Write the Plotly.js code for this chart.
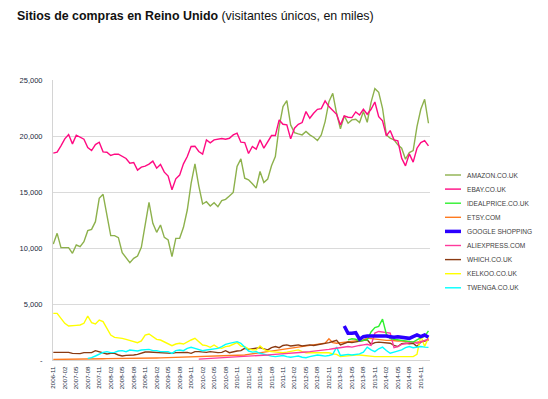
<!DOCTYPE html>
<html>
<head>
<meta charset="utf-8">
<script src="https://cdn.plot.ly/plotly-3.0.1.min.js"></script>
<style>html,body{margin:0;padding:0;background:#fff;}#chart{width:548px;height:399px;}</style>
</head>
<body>
<div id="chart"></div>
<script>
const months = ["2006-11","2006-12","2007-01","2007-02","2007-03","2007-04","2007-05","2007-06","2007-07","2007-08","2007-09","2007-10","2007-11","2007-12",
"2008-01","2008-02","2008-03","2008-04","2008-05","2008-06","2008-07","2008-08","2008-09","2008-10","2008-11","2008-12",
"2009-01","2009-02","2009-03","2009-04","2009-05","2009-06","2009-07","2009-08","2009-09","2009-10","2009-11","2009-12",
"2010-01","2010-02","2010-03","2010-04","2010-05","2010-06","2010-07","2010-08","2010-09","2010-10","2010-11","2010-12",
"2011-01","2011-02","2011-03","2011-04","2011-05","2011-06","2011-07","2011-08","2011-09","2011-10","2011-11","2011-12",
"2012-01","2012-02","2012-03","2012-04","2012-05","2012-06","2012-07","2012-08","2012-09","2012-10","2012-11","2012-12",
"2013-01","2013-02","2013-03","2013-04","2013-05","2013-06","2013-07","2013-08","2013-09","2013-10","2013-11","2013-12",
"2014-01","2014-02","2014-03","2014-04","2014-05","2014-06","2014-07","2014-08","2014-09","2014-10","2014-11","2014-12","2015-01"];

const tickMonths = ["2006-11","2007-02","2007-05","2007-08","2007-11","2008-02","2008-05","2008-08","2008-11","2009-02","2009-05","2009-08","2009-11",
"2010-02","2010-05","2010-08","2010-11","2011-02","2011-05","2011-08","2011-11","2012-02","2012-05","2012-08","2012-11",
"2013-02","2013-05","2013-08","2013-11","2014-02","2014-05","2014-08","2014-11"];

const yTickVals = [0, 5000, 10000, 15000, 20000, 25000];
const yTickText = ["-", "5,000", "10,000", "15,000", "20,000", "25,000"];

const amazon = [10357,11310,10030,10060,10030,9524,10268,10119,10566,11548,11667,12351,14435,14792,12946,11101,11101,10923,9583,9167,
8690,9077,9286,10060,12054,14077,12203,11399,12054,10952,10714,9226,10863,10863,11845,13393,15774,17516,15550,13929,
14137,13750,14048,13690,14226,14345,14643,14960,17278,17961,16238,16090,15734,15348,16833,15852,16149,17337,18169,20842,
22624,23159,20990,20307,20188,20099,20397,20099,19892,19595,20099,21287,23069,23812,22030,20634,21792,21139,21436,21495,
21198,22179,21228,23010,24228,23901,22476,20099,19803,19654,19208,18911,17931,18525,18704,20842,22386,23277,21139];

const ebay = [18466,18555,19119,19743,20129,19298,20070,19862,19713,18971,18704,19238,19446,18585,18555,18258,18377,18377,18199,17991,
17575,17634,16951,17219,17308,17486,17753,17130,17456,16773,16417,15199,16179,16506,17516,18169,19060,19090,18614,18377,
19654,19387,19654,19713,19773,19713,19800,20100,20248,19446,19416,18436,19060,18822,19654,18911,19446,20040,20040,21436,
21050,20990,19743,20693,21050,21198,22179,21584,22030,22386,22446,23129,22624,22268,21941,20990,21792,21674,21644,22149,
21881,22386,21941,22386,23040,21733,21347,20010,20486,19654,19565,18020,17337,18406,17664,18911,19416,19594,19119];

const idealprice = [null,null,null,null,null,null,null,null,null,null,null,null,null,null,null,null,null,null,null,null,
null,null,null,null,null,null,null,null,null,null,null,null,null,null,null,null,null,null,null,null,
null,null,null,null,null,null,null,null,null,null,null,null,null,null,null,null,null,null,null,null,
null,null,null,null,null,null,null,null,null,null,null,null,null,null,null,null,null,1800,1900,1850,
1700,1750,1800,2500,2900,3000,3650,2300,1900,1850,1800,1750,1750,1700,1600,1800,2000,2100,2600];

const etsy = [50,50,60,60,70,70,80,80,90,90,100,100,110,110,120,120,130,130,140,140,
150,150,160,160,170,170,180,180,190,200,200,210,220,220,230,240,250,260,270,280,
290,300,310,320,330,340,360,380,400,420,450,500,550,650,700,750,800,850,900,950,
1000,1050,1100,1150,1200,1250,1300,1350,1350,1400,1450,1500,1900,1550,1500,1550,1600,1650,1650,1700,
1750,1800,1950,1900,1850,1800,1750,1750,1750,1700,1700,1700,1650,1650,1600,1600,1650,1750,1800];

const google = [null,null,null,null,null,null,null,null,null,null,null,null,null,null,null,null,null,null,null,null,
null,null,null,null,null,null,null,null,null,null,null,null,null,null,null,null,null,null,null,null,
null,null,null,null,null,null,null,null,null,null,null,null,null,null,null,null,null,null,null,null,
null,null,null,null,null,null,null,null,null,null,null,null,null,null,null,null,3036,2381,2381,2440,
1845,2083,2143,2143,2143,2202,2143,2143,2083,2024,2083,2024,2024,1934,2083,2232,2083,2232,2024];

const aliexpress = [null,null,null,null,null,null,null,null,null,null,null,null,null,null,null,null,null,null,null,null,
null,null,null,null,null,null,null,null,null,null,null,null,null,null,null,null,null,null,80,100,
110,120,130,150,160,170,200,220,250,280,300,320,350,380,400,420,450,480,500,520,
550,580,600,620,650,700,720,750,780,800,850,900,950,1000,1050,1100,1150,1200,1150,1250,
1300,1350,1400,1300,2400,2550,2500,2450,2400,1100,1200,1400,1450,1500,1600,1500,1600,1750,1850];

const which = [684,684,684,684,684,595,595,565,655,655,655,833,744,655,536,595,595,446,357,417,
417,446,506,595,714,714,684,655,655,625,595,595,655,655,655,684,595,744,744,714,
684,744,684,655,684,833,655,744,803,833,1042,950,1000,1050,1100,1000,900,1100,1200,1100,
1300,1350,1250,1300,1350,1250,1300,1350,1300,1350,1450,1500,1550,1650,1750,1350,1500,1600,1550,1600,
1650,1700,1800,1400,1550,1600,1550,1500,1500,1300,1200,1450,1500,1450,1500,1200,1600,1700,1800];

const kelkoo = [4166,4166,3720,3274,3036,3095,3095,3125,3274,3928,3333,3214,3571,3422,2827,2232,2024,1994,1934,1845,
1726,1637,1548,1696,2232,2321,2083,1845,1786,1637,1488,1280,1428,1488,1428,1637,1786,1934,1637,1339,
1280,1131,1339,1101,1042,1190,1250,1399,1548,1250,1190,1000,900,900,1250,950,800,750,700,700,
650,700,750,850,900,750,650,650,650,650,600,600,650,550,500,300,350,350,400,450,
450,400,350,300,300,300,300,280,250,250,250,250,250,300,300,500,2200,1200,2000];

const twenga = [null,null,null,null,null,null,null,null,null,149,208,357,536,684,744,655,684,803,833,744,
893,833,803,893,893,952,833,833,744,744,744,595,833,893,833,1042,1131,1042,952,833,
893,952,952,1042,1190,1399,1488,1548,1637,1488,1131,800,700,750,600,500,400,350,300,350,
400,300,250,300,350,250,200,300,400,450,400,350,400,500,1150,400,450,500,450,500,
550,700,1150,900,750,1000,1150,850,600,700,800,900,1100,1200,1100,1150,1200,1150,1130];

const seriesNames = ["AMAZON.CO.UK","EBAY.CO.UK","IDEALPRICE.CO.UK","ETSY.COM","GOOGLE SHOPPING","ALIEXPRESS.COM","WHICH.CO.UK","KELKOO.CO.UK","TWENGA.CO.UK"];
const seriesData = [amazon, ebay, idealprice, etsy, google, aliexpress, which, kelkoo, twenga];
const seriesColors = ["#8DB14C","#FF0A82","#2EF02E","#FF7A1F","#2B00FF","#FF3A9C","#8A3A12","#FFFF00","#00FFFF"];
const seriesWidths = [1.4,1.4,1.4,1.4,3.5,1.4,1.4,1.4,1.4];

// draw order: small series first, big ones on top similar to reference
const drawOrder = [0,1,3,6,7,8,5,2,4];
const traces = drawOrder.map(k => ({
  type: 'scatter', mode: 'lines', x: months, y: seriesData[k], name: seriesNames[k],
  line: {color: seriesColors[k], width: seriesWidths[k]}, connectgaps: false, hoverinfo: 'skip'
}));

const L = 53, R = 118, T = 80, B = 39, W = 548, H = 399;
const pw = W - L - R, ph = H - T - B;
const px2x = px => (px - L) / pw;
const py2y = py => (H - B - py) / ph;

const shapes = [], annotations = [];
seriesNames.forEach((nm, k) => {
  const py = 175 + k * 14.1;
  shapes.push({type: 'line', xref: 'paper', yref: 'paper', x0: px2x(445), x1: px2x(461), y0: py2y(py), y1: py2y(py),
    line: {color: seriesColors[k], width: seriesWidths[k] > 2 ? 3.5 : 1.4}});
  annotations.push({xref: 'paper', yref: 'paper', x: px2x(465), y: py2y(py), xanchor: 'left', yanchor: 'middle',
    text: nm, showarrow: false, font: {family: 'Liberation Sans, Arial, sans-serif', size: 6.6, color: '#404040'}});
});

const layout = {
  width: W, height: H,
  margin: {l: L, r: R, t: T, b: B, pad: 0},
  paper_bgcolor: '#ffffff', plot_bgcolor: '#ffffff',
  showlegend: false,
  title: {
    text: '<b>Sitios de compras en Reino Unido</b> (visitantes únicos, en miles)',
    x: 17 / W, xref: 'container', xanchor: 'left',
    y: 1 - 16 / H, yref: 'container', yanchor: 'middle',
    font: {family: 'Liberation Sans, Arial, sans-serif', size: 12.4, color: '#111'}
  },
  xaxis: {
    type: 'category', range: [-0.08, 98.4], tickmode: 'array', tickvals: tickMonths, ticktext: tickMonths,
    tickangle: -90, tickfont: {family: 'Liberation Sans, Arial, sans-serif', size: 6.2, color: '#1a2a40'},
    showgrid: false, showline: true, linecolor: '#d4d4d4', linewidth: 1, ticks: '', zeroline: false,
    ticklabelstandoff: 3, fixedrange: true
  },
  yaxis: {
    range: [0, 25000], tickmode: 'array', tickvals: yTickVals, ticktext: yTickText,
    tickfont: {family: 'Liberation Sans, Arial, sans-serif', size: 7.5, color: '#1a2a40'},
    showgrid: true, gridcolor: '#dadada', gridwidth: 1, showline: true, linecolor: '#d4d4d4', linewidth: 1,
    zeroline: false, ticks: '', ticklabelstandoff: 8, fixedrange: true
  },
  shapes: shapes, annotations: annotations
};

Plotly.newPlot('chart', traces, layout, {displayModeBar: false, staticPlot: true});
</script>
</body>
</html>
